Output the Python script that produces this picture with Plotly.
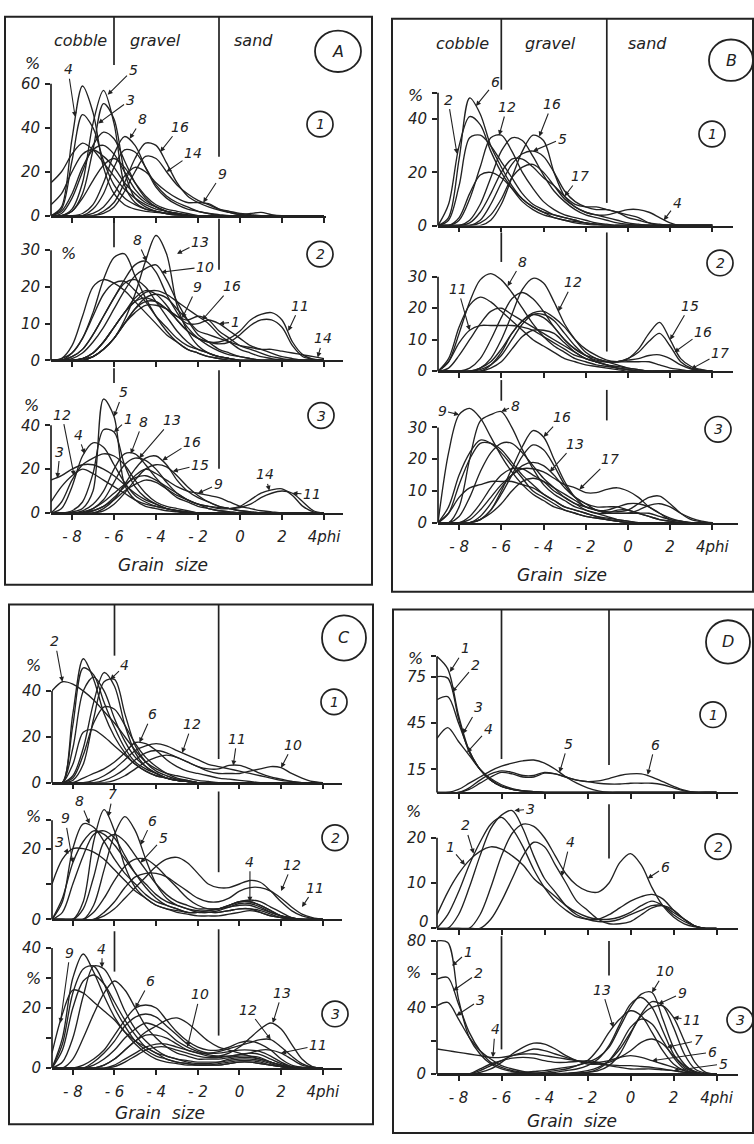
import plotly.graph_objects as go

W, H = 754, 1144
INK = "#222222"
FONT = "DejaVu Sans"

# ---------------- data ----------------
PHI = [-9, -8.5, -8, -7.5, -7, -6.5, -6, -5.5, -5,
       -4.5, -4, -3.5, -3, -2.5, -2, -1.5, -1, -0.5,
       0, 0.5, 1, 1.5, 2, 2.5, 3, 3.5, 4]
X_TICKS = [-8, -6, -4, -2, 0, 2, 4]
X_TICKTEXT = ["- 8", "- 6", "- 4", "- 2", "0", "2", "4phi"]

A1 = [
    [0, 4, 35, 59, 47, 22, 10, 5, 3, 2, 1.5, 1, 0.5, 0, 0, 0, 0, 0, 0, 0, 0, 0, 0, 0, 0, 0, 0],
    [0, 0, 3, 15, 42, 57, 42, 14, 6, 3, 2, 1, 0.5, 0, 0, 0, 0, 0, 0, 0, 0, 0, 0, 0, 0, 0, 0],
    [0, 0, 2, 10, 30, 51, 44, 20, 8, 4, 2, 1, 0.5, 0, 0, 0, 0, 0, 0, 0, 0, 0, 0, 0, 0, 0, 0],
    [0, 3, 25, 46, 40, 25, 14, 8, 5, 3, 2, 1, 0, 0, 0, 0, 0, 0, 0, 0, 0, 0, 0, 0, 0, 0, 0],
    [0, 1, 8, 20, 32, 38, 35, 25, 15, 8, 4, 2, 1, 0.5, 0, 0, 0, 0, 0, 0, 0, 0, 0, 0, 0, 0, 0],
    [15, 20, 28, 33, 30, 24, 18, 12, 8, 5, 3, 2, 1, 0, 0, 0, 0, 0, 0, 0, 0, 0, 0, 0, 0, 0, 0],
    [5, 10, 20, 28, 30, 27, 22, 15, 10, 6, 4, 2, 1, 0, 0, 0, 0, 0, 0, 0, 0, 0, 0, 0, 0, 0, 0],
    [0, 2, 10, 22, 30, 32, 28, 20, 12, 7, 4, 2, 1, 0, 0, 0, 0, 0, 0, 0, 0, 0, 0, 0, 0, 0, 0],
    [0, 0, 2, 8, 16, 23, 26, 22, 15, 9, 5, 3, 2, 1, 0, 0, 0, 0, 0, 0, 0, 0, 0, 0, 0, 0, 0],
    [0, 0, 0, 1, 5, 15, 28, 36, 32, 22, 13, 8, 5, 3, 2, 1, 0.5, 0, 0, 0, 0, 0, 0, 0, 0, 0, 0],
    [0, 0, 0, 0, 3, 10, 22, 30, 29, 22, 14, 9, 6, 4, 2, 1, 0, 0, 0, 0, 0, 0, 0, 0, 0, 0, 0],
    [0, 0, 0, 0, 0, 2, 6, 15, 26, 33, 32, 24, 15, 9, 6, 4, 2.5, 1.5, 0.5, 0, 0, 0, 0, 0, 0, 0, 0],
    [0, 0, 0, 0, 0, 1, 4, 11, 20, 27, 26, 20, 14, 10, 7, 5, 3, 2, 1, 0.5, 0, 0, 0, 0, 0, 0, 0],
    [0, 0, 0, 0, 1, 4, 10, 18, 22, 20, 15, 11, 8, 6, 6, 5.5, 3, 1.5, 0.5, 1, 1.5, 0.5, 0, 0, 0, 0, 0],
]
A2 = [
    [0, 0, 0, 0.5, 1, 3, 6, 11, 18, 27, 34, 29, 15, 8, 4, 2, 1, 0.5, 0, 0, 0, 0, 0, 0, 0, 0, 0],
    [0, 0.5, 2, 6, 13, 22, 28, 29, 23, 17, 12, 8, 5, 3, 2, 1, 0.5, 0, 0, 0, 0, 0, 0, 0, 0, 0, 0],
    [0, 0, 1, 3, 7, 12, 17, 22, 26, 27, 24, 18, 13, 9, 6, 4, 2.5, 1.5, 1, 0.5, 0, 0, 0, 0, 0, 0, 0],
    [0, 0, 0.5, 2, 5, 9, 14, 19, 23, 25, 26, 22, 16, 11, 7, 5, 3, 2, 1, 0.5, 0, 0, 0, 0, 0, 0, 0],
    [0, 0.5, 4, 12, 20, 22, 21, 19, 16, 13, 10, 7, 5, 3, 2, 1, 0.5, 0, 0, 0, 0, 0, 0, 0, 0, 0, 0],
    [0, 0, 2, 6, 12, 18, 21, 21.5, 19, 16, 12, 9, 6, 4, 3, 2, 1, 0.5, 0, 0, 0, 0, 0, 0, 0, 0, 0],
    [0, 0, 1, 3, 7, 12, 17, 21, 22, 20, 16, 12, 8, 5, 3, 2, 1, 0.5, 0, 0, 0, 0, 0, 0, 0, 0, 0],
    [0, 0, 0, 0.5, 2, 5, 9, 13, 16, 18.5, 19, 18, 16, 14, 12, 10, 7, 5, 3, 2, 1, 0.5, 0, 0, 0, 0, 0],
    [0, 0, 0, 0.5, 2, 5, 9, 13, 16, 17, 16, 14, 12, 11, 12, 11, 8, 6, 4, 3, 2, 1, 0.5, 0, 0, 0, 0],
    [0, 0, 0, 0, 1, 3, 6, 10, 13, 15, 15, 14, 12, 10, 10, 11, 10, 8, 6, 4, 3, 2, 1, 0.5, 0, 0, 0],
    [0, 0, 0, 0.5, 2, 5, 9, 13, 17, 19, 18, 15, 11, 8, 6, 5, 5, 6, 8, 11, 12.5, 13, 11, 5, 1.5, 0.3, 0],
    [0, 0, 0, 0, 1, 3, 6, 10, 14, 16, 16, 14, 11, 8, 6, 5, 4.5, 5, 7, 9.5, 11, 11, 9, 4, 1, 0.3, 0],
    [0, 0, 0, 0, 1, 3, 6, 10, 14, 17, 18, 17, 14, 11, 8, 7, 6, 5, 4, 3.5, 3, 3, 2.5, 2, 1.5, 1, 0.5],
]
A3 = [
    [0, 0, 0.5, 2, 10, 52, 44, 13, 6, 3, 2, 1, 0.5, 0, 0, 0, 0, 0, 0, 0, 0, 0, 0, 0, 0, 0, 0],
    [0, 0, 1, 5, 18, 38, 37, 22, 12, 7, 4, 2, 1, 0.5, 0, 0, 0, 0, 0, 0, 0, 0, 0, 0, 0, 0, 0],
    [0, 2, 12, 26, 32, 30, 22, 14, 8, 5, 3, 2, 1, 0, 0, 0, 0, 0, 0, 0, 0, 0, 0, 0, 0, 0, 0],
    [5, 12, 17, 20, 18, 15, 12, 9, 6, 4, 3, 2, 1, 0, 0, 0, 0, 0, 0, 0, 0, 0, 0, 0, 0, 0, 0],
    [15, 17, 20, 22, 22, 20, 17, 13, 9, 6, 4, 2, 1, 0.5, 0, 0, 0, 0, 0, 0, 0, 0, 0, 0, 0, 0, 0],
    [0, 5, 15, 22, 25, 27, 26, 22, 15, 9, 5, 3, 2, 1, 0, 0, 0, 0, 0, 0, 0, 0, 0, 0, 0, 0, 0],
    [0, 0, 0, 1, 4, 10, 20, 27, 27, 22, 16, 11, 7, 5, 3, 2, 1, 0.5, 0, 0, 0, 0, 0, 0, 0, 0, 0],
    [0, 0, 0, 0, 2, 6, 14, 22, 25, 24, 20, 14, 9, 6, 4, 2, 1, 0.5, 0, 0, 0, 0, 0, 0, 0, 0, 0],
    [0, 0, 0, 0, 0, 2, 6, 13, 20, 25, 26, 22, 15, 10, 7, 5, 3, 2, 1, 0.5, 0, 0, 0, 0, 0, 0, 0],
    [0, 0, 0, 0, 0, 1, 4, 9, 15, 20, 22, 21, 17, 12, 8, 5, 3, 2, 1, 0.5, 0, 0, 0, 0, 0, 0, 0],
    [0, 0, 0, 0, 1, 3, 7, 12, 17, 20, 18, 15, 12, 10, 9, 8, 7, 5, 3, 2, 1, 0.5, 0, 0, 0, 0, 0],
    [0, 0, 0, 0.5, 2, 5, 9, 13, 16, 17, 15, 12, 9, 6, 4, 3, 2, 2, 3, 6, 9, 10.5, 11, 8, 3, 0.5, 0],
    [0, 0, 0, 0, 1, 3, 6, 10, 13, 15, 14, 11, 8, 6, 4, 3, 2.5, 2, 2.5, 4, 7, 9, 10, 9, 5, 1, 0],
]
B1 = [
    [0, 3, 25, 48, 42, 30, 22, 15, 10, 7, 5, 3, 2, 1.5, 1, 0.5, 0, 0, 0, 0, 0, 0, 0, 0, 0, 0, 0],
    [0, 8, 30, 41, 38, 28, 20, 14, 9, 6, 4, 3, 2, 1, 0.5, 0, 0, 0, 0, 0, 0, 0, 0, 0, 0, 0, 0],
    [0, 2, 15, 33, 34, 30, 24, 18, 12, 8, 6, 4, 3, 2, 1, 0.5, 0, 0, 0, 0, 0, 0, 0, 0, 0, 0, 0],
    [0, 0, 2, 10, 22, 33, 34, 28, 20, 14, 9, 6, 4, 3, 2, 1, 0.5, 0, 0, 0, 0, 0, 0, 0, 0, 0, 0],
    [0, 0, 0, 2, 8, 18, 28, 33, 32, 26, 19, 13, 9, 6, 4, 3, 2, 1, 0.5, 0, 0, 0, 0, 0, 0, 0, 0],
    [0, 0, 0, 0, 0, 2, 8, 18, 28, 34, 32, 20, 11, 7, 5, 4, 3, 2, 1, 0.5, 0, 0, 0, 0, 0, 0, 0],
    [0, 0, 0, 0, 2, 8, 16, 23, 27, 28, 26, 20, 13, 9, 7, 6, 6, 5, 4, 3, 1, 0, 0, 0, 0, 0, 0],
    [0, 0, 3, 12, 19, 20, 18, 14, 10, 7, 5, 4, 3, 2, 1, 0.5, 0, 0, 0, 0, 0, 0, 0, 0, 0, 0, 0],
    [0, 0, 0, 1, 5, 12, 20, 25, 25, 22, 18, 15, 11, 8, 7, 7, 6, 5, 3, 2, 1, 0.5, 0, 0, 0, 0, 0],
    [0, 0, 0, 0, 1, 4, 10, 18, 22, 23, 20, 15, 10, 7, 5, 4, 4, 5, 6, 6, 5, 3, 1, 0, 0, 0, 0],
]
B2 = [
    [0, 3, 12, 22, 29, 31, 29, 25, 20, 15, 11, 8, 6, 4, 3, 2, 1.5, 1, 0.5, 0, 0, 0, 0, 0, 0, 0, 0],
    [0, 4, 14, 21, 23.5, 22, 19, 16, 13, 10, 8, 6, 4, 3, 2, 1.5, 1, 0.5, 0, 0, 0, 0, 0, 0, 0, 0, 0],
    [0, 0, 0, 0, 1, 4, 10, 18, 26, 29.5, 28, 22, 15, 10, 6, 4, 3, 2, 1, 0.5, 0, 0, 0, 0, 0, 0, 0],
    [0, 0, 0, 1, 4, 10, 17, 23, 25, 23, 19, 14, 10, 7, 5, 3, 2, 1.5, 1, 0.5, 0, 0, 0, 0, 0, 0, 0],
    [0, 1, 5, 10, 15, 19, 20, 18, 16, 14, 12, 10, 8, 6, 4, 3, 2, 1, 0.5, 0, 0, 0, 0, 0, 0, 0, 0],
    [0, 3, 9, 13, 14.5, 14.5, 14.5, 14.5, 14, 13, 11, 9, 7, 5, 4, 3, 2, 1, 0.5, 0, 0, 0, 0, 0, 0, 0, 0],
    [0, 0, 0, 0, 0, 2, 6, 12, 16, 18.5, 19, 17, 14, 10, 7, 5, 3.5, 3, 3, 3, 3, 2, 1, 0.5, 0, 0, 0],
    [0, 0, 0, 0, 0.5, 2, 5, 10, 15, 18, 18, 16, 12, 8, 5, 3.5, 3, 3, 4, 7, 12, 15.5, 10, 4, 1.5, 0.5, 0],
    [0, 0, 0, 0, 1, 3, 7, 12, 16, 18, 17, 14, 10, 7, 5, 4, 3, 3, 4, 6, 9.5, 12, 8, 3, 1, 0.3, 0],
    [0, 0, 0, 0, 0, 1, 3, 7, 11, 13, 13, 12, 9, 6, 4, 3, 3, 3, 3.5, 4, 5, 5.2, 4, 2, 0.7, 0.2, 0],
]
B3 = [
    [0, 22, 34, 36, 33, 27, 21, 16, 12, 9, 7, 5, 4, 3, 2, 1.5, 1, 0.5, 0, 0, 0, 0, 0, 0, 0, 0, 0],
    [0, 0, 5, 20, 32, 34, 35, 30, 23, 17, 12, 9, 7, 5, 4, 3, 2, 1, 0.5, 0, 0, 0, 0, 0, 0, 0, 0],
    [0, 5, 15, 22, 26, 25, 22, 18, 14, 10, 8, 6, 4, 3, 2, 1.5, 1, 0.5, 0, 0, 0, 0, 0, 0, 0, 0, 0],
    [0, 3, 12, 20, 25, 25, 23, 19, 15, 12, 9, 7, 5, 4, 3, 2, 1.5, 1, 0.5, 0, 0, 0, 0, 0, 0, 0, 0],
    [0, 0, 2, 8, 16, 22, 25, 25, 22, 18, 14, 11, 8, 6, 4, 3, 3, 4, 4, 3, 2, 1, 0.5, 0, 0, 0, 0],
    [0, 0, 0, 0, 1, 4, 10, 17, 24, 29, 27, 20, 13, 8, 5, 4, 3, 3, 3, 3, 3, 2, 1, 0.5, 0, 0, 0],
    [0, 0, 0, 0, 1, 4, 9, 15, 21, 24.5, 23, 18, 12, 8, 6, 5, 5, 5, 4, 3, 2, 1, 0.5, 0, 0, 0, 0],
    [0, 0, 0, 1, 4, 8, 12, 15, 18, 19, 18, 15, 11, 8, 6, 4, 4, 5, 6, 6, 5, 3, 1, 0.5, 0, 0, 0],
    [0, 0, 0, 0, 2, 6, 11, 15, 17, 17, 16, 14, 12, 11, 9.5, 9.5, 10.5, 11, 10, 8, 5, 3, 1.5, 0.5, 0, 0, 0],
    [0, 0, 0, 2, 6, 11, 15, 17, 17, 15, 13, 10, 8, 6, 5, 4, 3.5, 3.5, 4, 6, 8, 8.4, 6, 3, 1, 0.3, 0],
    [0, 0, 0, 0, 1, 3, 6, 10, 13, 14, 13, 11, 9, 7, 5, 4, 3, 3, 3, 4, 5.5, 6, 5, 3, 1.5, 0.5, 0],
    [0, 3, 8, 11, 12, 13, 13, 13, 12, 11, 9, 7, 5, 4, 3, 2, 1, 0.5, 0, 0, 0, 0, 0, 0, 0, 0, 0],
]
C1 = [
    [40, 44, 43, 40, 36, 31, 26, 20, 14, 9, 6, 4, 3, 2, 1, 0.5, 0, 0, 0, 0, 0, 0, 0, 0, 0, 0, 0],
    [0, 0, 30, 54, 45, 30, 20, 13, 8, 5, 3, 2, 1, 0.5, 0, 0, 0, 0, 0, 0, 0, 0, 0, 0, 0, 0, 0],
    [0, 0, 25, 50, 47, 35, 24, 15, 9, 6, 4, 2, 1, 0.5, 0, 0, 0, 0, 0, 0, 0, 0, 0, 0, 0, 0, 0],
    [0, 0, 15, 40, 46, 40, 28, 18, 11, 7, 4, 2, 1, 0.5, 0, 0, 0, 0, 0, 0, 0, 0, 0, 0, 0, 0, 0],
    [0, 0, 3, 15, 35, 48, 42, 25, 13, 7, 4, 2, 1, 0.5, 0, 0, 0, 0, 0, 0, 0, 0, 0, 0, 0, 0, 0],
    [0, 0, 1, 8, 28, 44, 45, 30, 16, 9, 5, 3, 1.5, 1, 0, 0, 0, 0, 0, 0, 0, 0, 0, 0, 0, 0, 0],
    [0, 0, 2, 12, 26, 33, 32, 25, 17, 11, 7, 4, 2, 1, 0, 0, 0, 0, 0, 0, 0, 0, 0, 0, 0, 0, 0],
    [0, 0, 8, 22, 23, 20, 16, 12, 8, 5, 3, 2, 1, 0.5, 0, 0, 0, 0, 0, 0, 0, 0, 0, 0, 0, 0, 0],
    [0, 0, 0, 2, 4, 6, 9, 13, 17.5, 17, 14, 10, 7, 5, 4, 3, 2, 1.5, 1, 0.5, 0, 0, 0, 0, 0, 0, 0],
    [0, 0, 0, 0, 1, 3, 6, 10, 14, 16, 17, 16, 14, 12, 10, 8, 7, 6, 5, 4, 3, 2, 1, 0.5, 0, 0, 0],
    [0, 0, 0, 0, 0, 1, 3, 6, 10, 13, 14, 13, 11, 9, 7, 6, 6, 7.5, 7.5, 6, 4, 2.5, 1.5, 0.5, 0, 0, 0],
    [0, 0, 0, 0, 0, 0, 1, 3, 6, 9, 11, 12, 11, 9, 7, 5, 4, 4, 4, 5, 6, 7, 6.5, 4, 2, 0.5, 0],
]
C2 = [
    [0, 0, 0, 5, 22, 31, 25, 15, 9, 6, 4, 3, 2, 1.5, 1, 1, 1, 1.5, 2, 2.5, 2, 1, 0.5, 0, 0, 0, 0],
    [0, 0, 0, 0, 4, 14, 24, 29, 25, 17, 10, 6, 4, 3, 2, 2, 2, 2.5, 3, 3, 2.5, 1.5, 0.5, 0, 0, 0, 0],
    [0, 5, 20, 27, 26, 22, 17, 13, 10, 7, 5, 4, 3, 2, 2, 2, 2, 2.5, 3, 3, 2, 1, 0.5, 0, 0, 0, 0],
    [0, 2, 10, 18, 24, 25, 23, 18, 13, 9, 6, 4, 3, 2, 2, 2, 2.5, 3.5, 4.5, 4.5, 3.5, 2, 1, 0.5, 0, 0, 0],
    [0, 0, 0, 3, 12, 22, 24, 22, 18, 14, 10, 7, 5, 4, 3, 3, 3, 4, 5, 5, 4, 2.5, 1, 0.5, 0, 0, 0],
    [0, 6, 16, 22, 25, 24, 21, 17, 13, 10, 7, 5, 4, 3, 2.5, 2.5, 3, 4, 5, 5.5, 5, 3.5, 2, 0.5, 0, 0, 0],
    [10, 17, 20, 20, 19, 17, 14, 11, 8, 6, 4, 3, 2.5, 2, 2, 2.5, 3, 3.5, 4, 4, 3, 2, 1, 0, 0, 0, 0],
    [0, 0, 0, 0, 0, 1, 3, 6, 9, 12, 15, 17, 17.5, 16, 13, 10, 9, 9, 10, 11, 10.5, 8, 5, 2.5, 1, 0.3, 0],
    [0, 0, 0, 0, 2, 6, 11, 15, 17, 17, 15, 12, 9, 6, 4, 3, 3, 4, 5, 5, 4, 2.5, 1, 0.3, 0, 0, 0],
    [0, 0, 0, 0, 0, 2, 5, 9, 12, 13, 13, 12, 10, 8, 6, 5, 5, 6, 8, 9, 9, 8, 6, 3.5, 1.5, 0.5, 0],
]
C3 = [
    [0, 10, 30, 38, 32, 24, 17, 12, 8, 5, 3, 2, 1.5, 1, 1, 1, 1, 1.5, 2, 2, 1.5, 1, 0.5, 0, 0, 0, 0],
    [0, 8, 25, 33, 34, 28, 20, 14, 9, 6, 4, 3, 2, 1.5, 1, 1, 1, 1.5, 2, 2, 1.5, 1, 0.5, 0, 0, 0, 0],
    [0, 6, 20, 29, 31, 28, 22, 16, 11, 7, 5, 3, 2, 1.5, 1, 1, 1.5, 2, 2.5, 2.5, 2, 1, 0.5, 0, 0, 0, 0],
    [0, 2, 10, 24, 34, 33, 27, 19, 13, 9, 6, 4, 3, 2, 1.5, 1.5, 2, 3, 3.5, 3.5, 3, 2, 1, 0.3, 0, 0, 0],
    [5, 18, 26, 25, 22, 19, 16, 12, 9, 7, 5, 4, 3, 2.5, 2, 2, 2, 2.5, 3, 3, 2.5, 1.5, 0.5, 0, 0, 0, 0],
    [0, 0, 3, 10, 18, 25, 29, 26, 20, 14, 10, 7, 5, 4, 3, 3, 3, 3.5, 4, 4, 3.5, 2, 1, 0.3, 0, 0, 0],
    [0, 0, 0, 1, 3, 6, 11, 16, 20, 21, 20, 16, 12, 9, 7, 6, 6, 7, 8.5, 9, 8, 6, 3, 1, 0.3, 0, 0],
    [0, 0, 0, 0, 2, 5, 9, 14, 17, 18, 17, 14, 11, 8, 6, 5, 5, 5.5, 6, 6, 5.5, 4, 2, 0.5, 0, 0, 0],
    [0, 0, 0, 0, 0, 1, 3, 6, 9, 12, 14, 16, 16.7, 15, 12, 9, 7, 6, 5, 4, 3, 2, 1, 0.3, 0, 0, 0],
    [0, 0, 0, 0, 1, 3, 6, 10, 13, 15, 14, 12, 9, 7, 5.5, 4.5, 4, 4, 4.5, 5, 4.5, 3, 1.5, 0.5, 0, 0, 0],
    [0, 0, 0, 0, 0, 1, 3, 6, 9, 11, 11, 10, 8, 6, 5, 4, 4, 5, 7, 10, 13, 15, 13, 8, 3, 0.5, 0],
    [0, 0, 0, 0, 0, 0, 1, 3, 5, 7, 8, 8, 7, 6, 5, 5, 5.5, 6.5, 7.5, 8.5, 9.5, 9.5, 7, 4, 1.5, 0.3, 0],
    [0, 0, 0, 0, 0, 0, 0.5, 2, 4, 6, 7, 7, 6, 5, 4, 3.5, 3.5, 4, 4.5, 5, 6, 6, 5, 3, 1, 0.3, 0],
]
D1 = [
    [88, 80, 50, 27, 15, 8, 4, 2, 1, 0.5, 0, 0, 0, 0, 0, 0, 0, 0, 0, 0, 0, 0, 0, 0, 0, 0, 0],
    [75, 74, 48, 26, 15, 8, 4, 2, 1, 0.5, 0, 0, 0, 0, 0, 0, 0, 0, 0, 0, 0, 0, 0, 0, 0, 0, 0],
    [60, 62, 45, 27, 15, 8, 4, 2, 1, 0, 0, 0, 0, 0, 0, 0, 0, 0, 0, 0, 0, 0, 0, 0, 0, 0, 0],
    [35, 42, 33, 24, 15, 9, 5, 2.5, 1, 0.5, 0, 0, 0, 0, 0, 0, 0, 0, 0, 0, 0, 0, 0, 0, 0, 0, 0],
    [0, 0, 2, 6, 10, 14, 17, 19, 20.5, 21, 19, 15, 10, 6, 3, 1, 0, 0, 0, 0, 0, 0, 0, 0, 0, 0, 0],
    [0, 0, 0, 2, 6, 10, 13, 12, 10, 10, 12.5, 12, 10, 8, 7, 7.5, 9, 11, 12, 12, 10, 7, 4, 1.5, 0, 0, 0],
    [0, 0, 0, 3, 8, 12, 14, 13, 11, 11, 13, 12, 10, 8, 7, 6, 5.5, 5.5, 6, 6, 6, 5, 3, 1, 0, 0, 0],
]
D2 = [
    [3, 8, 12, 15, 17, 18, 17.5, 16, 14, 11, 9, 7, 5, 3.5, 2.5, 2, 2, 2.5, 3.5, 5, 6, 5, 3, 1.5, 0.5, 0, 0],
    [0, 3, 8, 14, 19, 23, 24.5, 22, 18, 13, 9, 6, 4, 2.5, 2, 2, 3, 4.5, 6, 7, 7.5, 6.5, 4, 2, 0.5, 0, 0],
    [0, 0, 3, 9, 16, 22, 25, 26, 22, 16, 11, 8, 5, 3, 2, 1.5, 1.5, 2, 3, 4, 5, 5, 3.5, 2, 0.5, 0, 0],
    [0, 0, 0, 0, 3, 9, 16, 21, 23, 22.5, 20, 16, 12, 9.5, 8.2, 8, 10, 14.5, 16.5, 14, 9, 5, 2.5, 1, 0.3, 0, 0],
    [0, 0, 0, 0, 0, 2, 6, 11, 16, 19, 18, 14, 10, 6, 4, 2, 1, 1, 1.5, 3, 4.5, 5, 4, 2, 0.5, 0, 0],
]
D3 = [
    [80, 79, 45, 22, 12, 6, 3, 1.5, 0.5, 0, 0, 0, 0, 0, 0, 0, 0, 0, 0, 0, 0, 0, 0, 0, 0, 0, 0],
    [57, 58, 42, 25, 14, 7, 4, 2, 1, 0.5, 0, 0, 0, 0, 0, 0, 0, 0, 0, 0, 0, 0, 0, 0, 0, 0, 0],
    [41, 43, 33, 22, 14, 9, 5, 3, 1.5, 0.5, 0, 0, 0, 0, 0, 0, 0, 0, 0, 0, 0, 0, 0, 0, 0, 0, 0],
    [15, 14, 13, 12, 11, 10, 10, 11, 12, 12, 11, 10, 9, 8, 7, 6, 5.5, 5, 5, 4.5, 4, 3, 2, 1, 0.5, 0, 0],
    [0, 0, 0, 0, 1, 3, 7, 12, 16, 18.5, 18, 15, 11, 8, 6, 6, 7, 10, 14, 19, 21, 18, 11, 5, 1.5, 0, 0],
    [0, 0, 0, 0, 2, 5, 8, 11, 13, 15, 14, 12, 10, 8, 7, 7, 8, 10, 11, 10, 8, 6, 4, 2, 0.5, 0, 0],
    [0, 0, 0, 0, 3, 6, 8, 9.5, 10, 9.5, 8, 7, 7, 7.5, 8, 7, 5, 4, 3, 3, 3, 2.5, 2, 1, 0.3, 0, 0],
    [0, 0, 0, 0, 0, 0, 0, 0.5, 1, 1.5, 2, 3, 4, 5, 8, 15, 25, 33, 38, 35, 25, 14, 6, 2, 0.5, 0, 0],
    [0, 0, 0, 0, 0, 0, 0, 0, 0, 0.5, 1, 2, 3, 5, 7, 10, 16, 28, 40, 48, 49, 33, 16, 6, 1, 0, 0],
    [0, 0, 0, 0, 0, 0, 0, 0, 0, 0, 0.5, 1, 2, 3, 5, 9, 17, 30, 42, 46, 40, 26, 12, 4, 1, 0, 0],
    [0, 0, 0, 0, 0, 0, 0, 0, 0, 0, 0, 0, 0, 0.5, 1, 2, 5, 12, 24, 36, 43.5, 41, 28, 12, 3, 0.5, 0],
    [0, 0, 0, 0, 0, 0, 0, 0, 0, 0, 0, 0, 0.5, 1, 2, 4, 8, 15, 25, 35, 40, 41, 34, 20, 7, 1, 0],
    [0, 0, 0, 0, 0, 0, 0, 0, 0, 0, 0, 0, 0, 0.5, 1, 3, 8, 17, 28, 33, 30, 20, 10, 3, 0.5, 0, 0],
]

# curve labels: (text, phi at arrow tip, % at arrow tip, text x px, text y px)
A1_LABELS = [("4", -7.85, 45, 68, 62), ("5", -6.3, 55, 133, 62), ("3", -6.75, 42, 130, 93),
             ("8", -5.25, 35, 142, 112), ("16", -3.8, 29, 180, 120), ("14", -3.5, 20, 193, 147),
             ("9", -1.75, 6, 222, 168)]
A2_LABELS = [("8", -4.45, 27, 137, 235), ("13", -3.0, 29, 200, 237), ("10", -3.75, 24, 205, 262),
             ("9", -2.75, 11.5, 197, 283), ("16", -1.8, 11, 232, 282), ("1", -1.0, 10, 235, 318),
             ("11", 2.3, 8, 300, 302), ("14", 3.7, 0.8, 323, 335)]
A3_LABELS = [("5", -6.0, 44, 123, 390), ("1", -6.0, 37, 128, 417), ("12", -7.9, 17, 62, 413),
             ("4", -7.4, 27, 78, 433), ("3", -8.7, 16, 60, 450), ("8", -5.2, 27, 143, 420),
             ("13", -4.8, 25, 172, 418), ("16", -3.7, 24, 192, 440), ("15", -3.2, 19, 200, 463),
             ("9", -2.0, 9, 218, 483), ("14", 1.4, 10.2, 265, 473), ("11", 2.5, 9, 312, 493)]
B1_LABELS = [("2", -8.1, 27, 448, 93), ("6", -7.2, 45, 495, 75), ("12", -6.1, 34, 507, 100),
             ("16", -4.2, 33.5, 552, 97), ("5", -4.5, 28, 562, 132), ("17", -3.0, 11, 580, 170),
             ("4", 1.7, 2, 677, 197)]
B2_LABELS = [("8", -5.7, 27, 522, 257), ("11", -7.5, 13, 458, 285), ("12", -3.3, 19, 573, 278),
             ("15", 2.0, 10, 690, 302), ("16", 2.2, 6, 703, 328), ("17", 3.0, 0.7, 720, 350)]
B3_LABELS = [("9", -8.0, 34, 442, 408), ("8", -6.0, 35, 515, 403), ("16", -4.0, 27, 562, 415),
             ("13", -3.7, 16, 575, 442), ("17", -2.3, 10.5, 610, 458)]
C1_LABELS = [("2", -8.5, 44, 55, 643), ("4", -6.2, 45, 125, 667), ("6", -4.8, 17.5, 152, 717),
             ("12", -2.75, 13, 192, 727), ("11", -0.3, 7.5, 237, 742), ("10", 2.0, 6.5, 293, 748)]
C2_LABELS = [("7", -6.3, 29, 113, 798), ("8", -7.2, 27, 80, 805), ("9", -8.0, 16, 65, 823),
             ("3", -8.2, 18.5, 60, 847), ("6", -4.75, 21, 152, 825), ("5", -4.75, 16, 163, 843),
             ("4", 0.5, 5, 250, 867), ("12", 2.0, 8, 292, 870), ("11", 3.0, 3.5, 315, 893)]
C3_LABELS = [("9", -8.6, 15, 70, 960), ("4", -6.6, 33.5, 102, 955), ("6", -5.0, 20, 150, 988),
             ("10", -2.5, 7, 200, 1002), ("12", 1.5, 9.5, 248, 1017), ("13", 1.6, 15, 282, 1000),
             ("11", 2.0, 5, 318, 1053)]
D1_LABELS = [("1", -8.4, 78, 465, 650), ("2", -8.3, 65, 475, 667), ("3", -7.8, 38, 478, 710),
             ("4", -7.6, 26, 488, 732), ("5", -3.3, 13, 568, 747), ("6", 0.8, 11.5, 655, 748)]
D2_LABELS = [("1", -7.7, 14, 450, 852), ("2", -7.3, 16.5, 465, 830), ("3", -5.4, 26, 530, 813),
             ("4", -3.2, 11.5, 570, 847), ("6", 0.8, 11, 665, 872)]
D3_LABELS = [("1", -8.3, 65, 468, 958), ("2", -8.25, 50, 478, 980), ("3", -8.1, 35, 480, 1007),
             ("4", -6.4, 10, 495, 1037), ("13", -0.8, 28, 602, 997), ("10", 1.0, 49, 665, 978),
             ("9", 1.3, 42, 682, 1000), ("11", 2.0, 34, 692, 1027), ("7", 1.7, 16, 698, 1048),
             ("6", 1.0, 8, 712, 1060), ("5", 2.0, 2, 723, 1072)]

# ---------------- layout geometry (pixels) ----------------
PANEL_GEOM = {
    "A": dict(x0=51, ppp=21.0, box=(5, 8, 372, 585), letter=(338, 43, 23, 21),
              bounds=[(-6, 8, 57), (-1, 8, 150), (-6, 212, 242), (-1, 213, 265), (-6, 365, 380), (-1, 367, 467)],
              heads=[(80, 32), (155, 32), (253, 32)], grain=(163, 565)),
    "B": dict(x0=438, ppp=21.1, box=(392, 10, 753, 592), letter=(731, 52, 22, 21),
              bounds=[(-6, 10, 82), (-1, 10, 197), (-6, 227, 257), (-1, 227, 348), (-6, 377, 398), (-1, 387, 418)],
              heads=[(462, 35), (550, 35), (647, 35)], grain=(562, 575)),
    "C": dict(x0=52, ppp=20.83, box=(9, 605, 373, 1133), letter=(344, 639, 22, 23),
              bounds=[(-6, 605, 657), (-1, 605, 762), (-1, 795, 877), (-6, 937, 978), (-1, 935, 1043)],
              heads=[], grain=(160, 1122)),
    "D": dict(x0=437, ppp=21.5, box=(393, 610, 753, 1142), letter=(728, 643, 22, 22),
              bounds=[(-6, 610, 762), (-1, 610, 768), (-1, 808, 863), (-6, 942, 1057), (-1, 947, 982)],
              heads=[], grain=(572, 1130)),
}
HEAD_TEXT = ["cobble", "gravel", "sand"]

SUBPLOTS = [
    dict(panel="A", num="1", curves=A1, labels=A1_LABELS, y0=210, ppu=2.233, ymax=62, xmax=4.1,
         yt=[0, 20, 40, 60], ytt=["0", "20", "40", "60"], top=60, xlab=False, pct=(32, 55), circ=(320, 117)),
    dict(panel="A", num="2", curves=A2, labels=A2_LABELS, y0=357, ppu=3.733, ymax=36, xmax=4.9,
         yt=[0, 10, 20, 30], ytt=["0", "10", "20", "30"], top=30, xlab=False, pct=(68, 248), circ=(320, 249)),
    dict(panel="A", num="3", curves=A3, labels=A3_LABELS, y0=512, ppu=2.225, ymax=58, xmax=4.9,
         yt=[0, 20, 40], ytt=["0", "20", "40"], top=40, xlab=True, pct=(31, 403), circ=(321, 413)),
    dict(panel="B", num="1", curves=B1, labels=B1_LABELS, y0=220, ppu=2.7, ymax=51, xmax=5.0,
         yt=[0, 20, 40, 50], ytt=["0", "20", "40", ""], top=50, xlab=False, pct=(415, 88), circ=(712, 127)),
    dict(panel="B", num="2", curves=B2, labels=B2_LABELS, y0=368, ppu=3.2, ymax=33, xmax=5.0,
         yt=[0, 10, 20, 30], ytt=["0", "10", "20", "30"], top=30, xlab=False, pct=None, circ=(720, 258)),
    dict(panel="B", num="3", curves=B3, labels=B3_LABELS, y0=522, ppu=3.23, ymax=38, xmax=5.2,
         yt=[0, 10, 20, 30], ytt=["0", "10", "20", "30"], top=30, xlab=True, pct=None, circ=(718, 427)),
    dict(panel="C", num="1", curves=C1, labels=C1_LABELS, y0=786, ppu=2.33, ymax=57, xmax=4.9,
         yt=[0, 20, 40], ytt=["0", "20", "40"], top=40, xlab=False, pct=(33, 667), circ=(334, 704)),
    dict(panel="C", num="2", curves=C2, labels=C2_LABELS, y0=925, ppu=3.6, ymax=32, xmax=4.9,
         yt=[0, 10, 20, 28], ytt=["0", "", "20", ""], top=28, xlab=False, pct=(33, 820), circ=(335, 842)),
    dict(panel="C", num="3", curves=C3, labels=C3_LABELS, y0=1076, ppu=3.05, ymax=40, xmax=4.9,
         yt=[0, 10, 20, 30, 40], ytt=["0", "", "20", "", "40"], top=40, xlab=True, pct=(33, 985), circ=(335, 1021)),
    dict(panel="D", num="1", curves=D1, labels=D1_LABELS, y0=796, ppu=1.57, ymax=92, xmax=5.0,
         yt=[15, 45, 75, 88], ytt=["15", "45", "75", ""], top=88, xlab=False, pct=(415, 660), circ=(713, 717)),
    dict(panel="D", num="2", curves=D2, labels=D2_LABELS, y0=934, ppu=4.6, ymax=27, xmax=5.0,
         yt=[0, 10, 20], ytt=["", "10", "20"], top=20, xlab=False, pct=(413, 815), circ=(718, 851),
         extra=[("0", 424, 928)]),
    dict(panel="D", num="3", curves=D3, labels=D3_LABELS, y0=1082, ppu=1.69, ymax=82, xmax=5.0,
         yt=[0, 20, 40, 60, 80], ytt=["0", "", "40", "", "80"], top=80, xlab=True, pct=(413, 979), circ=(740, 1027)),
]

TICK_FONT = dict(family=FONT, size=15, color=INK, style="italic")
LABEL_FONT = dict(family=FONT, size=14, color=INK, style="italic")
TEXT_FONT = dict(family=FONT, size=16, color=INK, style="italic")


def fx(x):
    return x / W


def fy(y):
    return 1 - y / H


def text_ann(txt, x, y, font, xanchor="center"):
    return dict(x=fx(x), y=fy(y), xref="paper", yref="paper", text=txt, showarrow=False,
                xanchor=xanchor, yanchor="middle", font=font)


fig = go.Figure()
axes = {}
shapes = []
anns = []

for k, sp in enumerate(SUBPLOTS, start=1):
    g = PANEL_GEOM[sp["panel"]]
    x0, ppp = g["x0"], g["ppp"]
    sfx = "" if k == 1 else str(k)
    xa, ya = "x" + sfx, "y" + sfx
    axes["xaxis" + sfx] = dict(
        domain=[fx(x0), fx(x0 + (sp["xmax"] + 9) * ppp)], range=[-9, sp["xmax"]], anchor=ya,
        showline=True, linecolor=INK, linewidth=1.7, ticks="outside", ticklen=5, tickwidth=1.5,
        tickcolor=INK, tickvals=X_TICKS, ticktext=X_TICKTEXT, showticklabels=sp["xlab"],
        tickfont=TICK_FONT, ticklabelstandoff=4, showgrid=False, zeroline=False, fixedrange=True)
    axes["yaxis" + sfx] = dict(
        domain=[fy(sp["y0"]), fy(sp["y0"] - sp["ymax"] * sp["ppu"])], range=[0, sp["ymax"]],
        anchor=xa, showline=False, ticks="outside", ticklen=5, tickwidth=1.5, tickcolor=INK,
        tickvals=sp["yt"], ticktext=sp["ytt"], tickfont=TICK_FONT, ticklabelstandoff=2,
        showgrid=False, zeroline=False, fixedrange=True)
    # y axis line only up to the top tick
    shapes.append(dict(type="line", xref="paper", yref="paper", x0=fx(x0), x1=fx(x0),
                       y0=fy(sp["y0"]), y1=fy(sp["y0"] - sp["top"] * sp["ppu"]),
                       line=dict(color=INK, width=1.7)))
    for vals in sp["curves"]:
        assert len(vals) == len(PHI)
        fig.add_trace(go.Scatter(x=PHI, y=vals, mode="lines", xaxis=xa, yaxis=ya,
                                 line=dict(color=INK, width=1.35, shape="spline", smoothing=0.9),
                                 hoverinfo="skip", showlegend=False))
    for (txt, phi, val, tx, ty) in sp["labels"]:
        tipx = x0 + (phi + 9) * ppp
        tipy = sp["y0"] - val * sp["ppu"]
        anns.append(dict(x=phi, y=val, xref=xa, yref=ya, text=txt, showarrow=True,
                         ax=tx - tipx, ay=ty - tipy, arrowhead=2, arrowsize=0.9, arrowwidth=1.1,
                         arrowcolor=INK, standoff=0, font=LABEL_FONT))
    if sp["pct"]:
        anns.append(text_ann("%", sp["pct"][0], sp["pct"][1], TEXT_FONT))
    for (txt, ex, ey) in sp.get("extra", []):
        anns.append(text_ann(txt, ex, ey, TICK_FONT))
    cx, cy = sp["circ"]
    shapes.append(dict(type="circle", xref="paper", yref="paper", x0=fx(cx - 13), x1=fx(cx + 13),
                       y0=fy(cy + 13), y1=fy(cy - 13), line=dict(color=INK, width=1.7)))
    anns.append(text_ann(sp["num"], cx, cy, dict(family=FONT, size=14, color=INK, style="italic")))

for name, g in PANEL_GEOM.items():
    bx0, by0, bx1, by1 = g["box"]
    shapes.append(dict(type="rect", xref="paper", yref="paper", x0=fx(bx0), x1=fx(bx1),
                       y0=fy(by1), y1=fy(by0), line=dict(color=INK, width=2)))
    cx, cy, rx, ry = g["letter"]
    shapes.append(dict(type="circle", xref="paper", yref="paper", x0=fx(cx - rx), x1=fx(cx + rx),
                       y0=fy(cy + ry), y1=fy(cy - ry), line=dict(color=INK, width=1.8)))
    anns.append(text_ann(name, cx, cy, dict(family=FONT, size=16, color=INK, style="italic")))
    for (phi, ya_, yb_) in g["bounds"]:
        xp = g["x0"] + (phi + 9) * g["ppp"]
        shapes.append(dict(type="line", xref="paper", yref="paper", x0=fx(xp), x1=fx(xp),
                           y0=fy(yb_), y1=fy(ya_), line=dict(color=INK, width=1.7)))
    for txt, (hx, hy) in zip(HEAD_TEXT, g["heads"]):
        anns.append(text_ann(txt, hx, hy, TEXT_FONT))
    gx, gy = g["grain"]
    anns.append(text_ann("Grain&nbsp;&nbsp;size", gx, gy, dict(family=FONT, size=17, color=INK, style="italic")))

fig.update_layout(
    width=W, height=H, autosize=False, margin=dict(l=0, r=0, t=0, b=0),
    paper_bgcolor="white", plot_bgcolor="rgba(0,0,0,0)", showlegend=False,
    shapes=shapes, annotations=anns, **axes)

fig.write_html("out.html", config={"displayModeBar": False},
               post_script="document.body.style.margin='0';")
